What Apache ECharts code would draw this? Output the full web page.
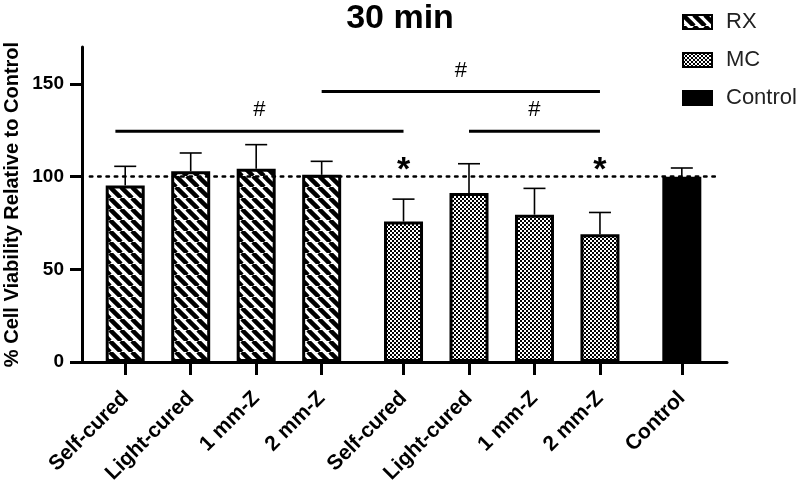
<!DOCTYPE html>
<html>
<head>
<meta charset="utf-8">
<script src="https://cdn.jsdelivr.net/npm/echarts@6/dist/echarts.min.js"></script>
<style>
  html, body { margin: 0; padding: 0; background: #fff; }
  #chart { width: 800px; height: 483px; }
</style>
</head>
<body>
<div id="chart"></div>
<script>
// 数据
var categories = ['Self-cured', 'Light-cured', '1 mm-Z', '2 mm-Z',
                  'Self-cured', 'Light-cured', '1 mm-Z', '2 mm-Z', 'Control'];
var xPos = [0, 1, 2, 3, 4.25, 5.25, 6.25, 7.25, 8.5];

var rxMean = [95.3, 102.9, 104.3, 101.0];
var rxSD   = [10.3, 9.9, 13.0, 7.3];
var mcMean = [75.8, 91.2, 79.5, 69.0];
var mcSD   = [12.1, 15.8, 14.2, 11.7];
var ctrlMean = [100];
var ctrlSD   = [4.7];

// 显著性标记: [起点, 终点, 高度]
var brackets = [[-0.15, 4.25, 124.5], [3, 7.25, 146], [5.25, 7.25, 124.5]];
var stars = [[4.25, 107], [7.25, 107]];
var refLine = 100;

var yTicks = [0, 50, 100, 150];

// 填充图案
function stripePattern() {
    var s = 11, c = document.createElement('canvas');
    c.width = s; c.height = s;
    var g = c.getContext('2d');
    g.fillStyle = '#fff'; g.fillRect(0, 0, s, s);
    g.strokeStyle = '#000'; g.lineWidth = 4.5;
    [[-s, 0], [0, 0], [s, 0]].forEach(function (o) {
        g.beginPath();
        g.moveTo(o[0], o[1]);
        g.lineTo(o[0] + s, o[1] + s);
        g.stroke();
    });
    return { image: c, repeat: 'repeat' };
}
function checkerPattern() {
    var c = document.createElement('canvas');
    c.width = 4; c.height = 4;
    var g = c.getContext('2d');
    g.fillStyle = '#fff'; g.fillRect(0, 0, 4, 4);
    g.fillStyle = '#000';
    g.fillRect(0, 0, 2, 2);
    g.fillRect(2, 2, 2, 2);
    return { image: c, repeat: 'repeat' };
}

function barData(offset, means) {
    return means.map(function (v, i) { return [xPos[offset + i], v]; });
}
var errData = [];
rxMean.forEach(function (v, i) { errData.push([xPos[i], v, v + rxSD[i]]); });
mcMean.forEach(function (v, i) { errData.push([xPos[4 + i], v, v + mcSD[i]]); });
ctrlMean.forEach(function (v, i) { errData.push([xPos[8 + i], v, v + ctrlSD[i]]); });

var font = 'Liberation Sans, Arial, sans-serif';
var barStyle = { borderColor: '#000', borderWidth: 3 };
var tickStyle = { color: '#000', width: 3 };

var myChart = echarts.init(document.getElementById('chart'));
var option = {
    animation: false,
    textStyle: { fontFamily: font },
    title: {
        text: '30 min',
        left: 'center',
        top: -3,
        textStyle: { fontSize: 34, fontWeight: 'bold', color: '#000', fontFamily: font }
    },
    legend: {
        orient: 'vertical',
        left: 677,
        top: 6,
        icon: 'rect',
        itemWidth: 29,
        itemHeight: 14,
        itemGap: 16,
        textStyle: { fontSize: 22, color: '#222', fontFamily: font, padding: [0, 0, 0, 9] },
        data: ['RX', 'MC', 'Control']
    },
    grid: { left: 82, right: 73, top: 47, bottom: 121, containLabel: false, outerBoundsMode: 'none' },
    xAxis: {
        type: 'value',
        min: -0.66,
        max: 9.19,
        splitLine: { show: false },
        axisLine: { onZero: false, lineStyle: { color: '#000', width: 3 } },
        axisTick: { show: true, inside: false, length: 13, lineStyle: tickStyle, customValues: xPos },
        axisLabel: {
            customValues: xPos,
            rotate: 45,
            margin: 33,
            fontSize: 21,
            fontWeight: 'bold',
            color: '#000',
            fontFamily: font,
            formatter: function (v) {
                var i = xPos.indexOf(v);
                return i >= 0 ? categories[i] : '';
            }
        }
    },
    yAxis: {
        type: 'value',
        min: 0,
        max: 170,
        interval: 50,
        name: '% Cell Viability Relative to Control',
        nameLocation: 'middle',
        nameGap: 60,
        nameMoveOverlap: false,
        nameTextStyle: { fontSize: 20, fontWeight: 'bold', color: '#000', fontFamily: font },
        splitLine: { show: false },
        axisLine: { show: true, onZero: false, lineStyle: { color: '#000', width: 3 } },
        axisTick: { show: true, inside: false, length: 12, lineStyle: tickStyle, customValues: yTicks },
        axisLabel: { customValues: yTicks, margin: 18, fontSize: 19, fontWeight: 'bold', color: '#000', fontFamily: font }
    },
    series: [{
        name: 'RX',
        type: 'bar',
        barWidth: 39,
        barGap: '-100%',
        data: barData(0, rxMean),
        itemStyle: Object.assign({ color: stripePattern() }, barStyle),
        markLine: {
            silent: true,
            symbol: 'none',
            label: { show: false },
            lineStyle: { color: '#000', width: 2.5, type: [2.5, 5.8], cap: 'round' },
            data: [[{ coord: [-0.54, refLine] }, { coord: [9.06, refLine] }]]
        }
    }, {
        name: 'MC',
        type: 'bar',
        barWidth: 39,
        barGap: '-100%',
        data: barData(4, mcMean),
        itemStyle: Object.assign({ color: checkerPattern() }, barStyle)
    }, {
        name: 'Control',
        type: 'bar',
        barWidth: 39,
        barGap: '-100%',
        data: barData(8, ctrlMean),
        itemStyle: Object.assign({ color: '#000' }, barStyle)
    }, {
        // 误差线（只画上半）
        type: 'custom',
        silent: true,
        data: errData,
        encode: { x: 0, y: [1, 2] },
        renderItem: function (params, api) {
            var p0 = api.coord([api.value(0), api.value(1)]);
            var p1 = api.coord([api.value(0), api.value(2)]);
            var st = { stroke: '#000', lineWidth: 1.6 };
            return {
                type: 'group',
                children: [
                    { type: 'line', shape: { x1: p0[0], y1: p0[1], x2: p1[0], y2: p1[1] }, style: st },
                    { type: 'line', shape: { x1: p1[0] - 11, y1: p1[1], x2: p1[0] + 11, y2: p1[1] }, style: st }
                ]
            };
        }
    }, {
        // 显著性横线和 #
        type: 'custom',
        silent: true,
        data: brackets,
        encode: { x: [0, 1], y: 2 },
        renderItem: function (params, api) {
            var a = api.coord([api.value(0), api.value(2)]);
            var b = api.coord([api.value(1), api.value(2)]);
            return {
                type: 'group',
                children: [
                    { type: 'line', shape: { x1: a[0], y1: a[1], x2: b[0], y2: b[1] },
                      style: { stroke: '#000', lineWidth: 3 } },
                    { type: 'text', x: (a[0] + b[0]) / 2, y: a[1] - 21,
                      style: { text: '#', fontSize: 22, fontFamily: font, fill: '#000',
                               align: 'center', verticalAlign: 'middle' } }
                ]
            };
        }
    }, {
        // 星号
        type: 'custom',
        silent: true,
        data: stars,
        encode: { x: 0, y: 1 },
        renderItem: function (params, api) {
            var p = api.coord([api.value(0), api.value(1)]);
            return {
                type: 'text', x: p[0], y: p[1] + 7,
                style: { text: '*', fontSize: 34, fontWeight: 'bold', fontFamily: font, fill: '#000',
                         align: 'center', verticalAlign: 'middle' }
            };
        }
    }]
};
myChart.setOption(option);
</script>
</body>
</html>
